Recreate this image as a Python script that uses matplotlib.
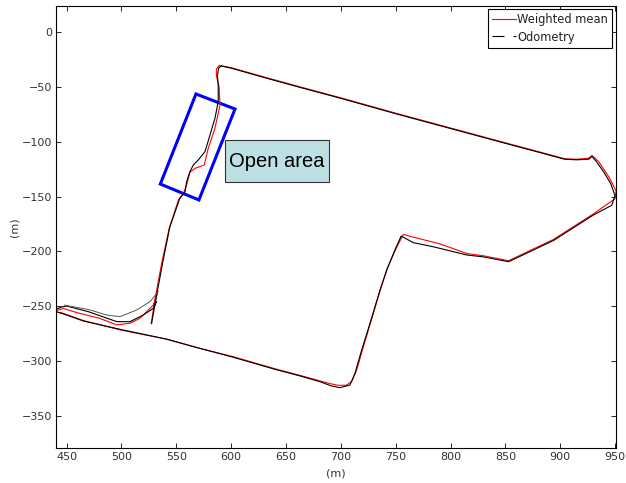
import matplotlib
matplotlib.use("Agg")
import matplotlib.pyplot as plt
from matplotlib.lines import Line2D
from matplotlib.patches import Rectangle, Polygon

# Trajectoire odometrie (m)
odom_x = [527.5, 532, 538, 544, 553, 557.9, 559.4, 562.4, 565.5, 570, 576.1, 580.7,
          585.2, 588.2, 588.2, 587.5, 588.5, 591, 600, 630, 662.7, 700, 750, 800,
          850, 880, 904, 915, 926, 929, 933, 940, 946, 950, 947, 930, 894, 853,
          830, 815, 784, 766, 755, 749.3, 741.8, 735.7, 726.6, 719, 712.9, 708.3,
          699.2, 691.6, 681, 662.7, 640, 601.9, 570, 541.2, 498.6, 465.1, 445.4,
          437, 446, 450, 470, 495.6, 507.7, 519.8, 529, 532]
odom_y = [-265.5, -240, -208, -178, -152, -145.6, -136.5, -127.3, -121.2, -116.7,
          -109.1, -93.9, -78.7, -63.5, -48.3, -40, -33, -31, -33, -41.5, -50.5,
          -60.5, -74.5, -88, -101.5, -109.5, -116, -116.5, -116, -113.5, -118,
          -128, -138, -149, -158, -167, -190, -209.4, -205, -203.3, -195.7, -192,
          -186, -198.7, -217, -235.2, -265.5, -289.9, -311.1, -321.8, -324.2,
          -322.7, -318.8, -313.5, -307.5, -296.5, -288, -280, -271, -263.4,
          -256.4, -254, -250.5, -249.8, -255, -264, -264.1, -258, -251.9, -245.8]

# Second passage odometrie (boucle gauche)
odom2_x = [448, 470, 486.5, 498.6, 513.8, 526, 533.5]
odom2_y = [-249, -253, -258, -259.5, -253.4, -245.8, -236.7]

# Moyenne ponderee
wm_x = [527, 531, 537, 543.5, 552, 557, 559.4, 562.4, 567, 575.5, 579.1, 585.2,
        589.8, 589, 586.5, 586.5, 589, 600, 630, 662.7, 700, 750, 800, 850, 880,
        904, 915, 926, 929, 935, 945, 951, 950, 930, 894, 853, 830, 815, 790,
        770, 757, 751, 743, 737, 728, 720.5, 714.5, 710, 705, 697, 690, 681,
        662.7, 640, 601.9, 570, 541.2, 498.6, 465.1, 445.4, 437, 447, 460, 480,
        495.6, 507.7, 516.8, 529, 533]
wm_y = [-266, -241, -209, -179, -153, -146, -139.5, -127.9, -124.3, -121.2, -106,
        -87.8, -66.5, -50, -40, -34, -30.5, -32.5, -41, -50, -60, -74, -87.5,
        -101, -109, -115.5, -116, -115, -112.5, -118, -133, -145, -152, -166,
        -189, -208.5, -204, -202, -193, -188, -184.5, -196, -214, -232, -262,
        -287, -308, -318.5, -322, -322, -320.5, -318, -313, -307, -296, -288,
        -280, -271.5, -263, -256, -255, -252, -256, -261, -267, -265.5, -261,
        -248.9, -238]

# Zone ouverte (rectangle incline)
zone_x = [567.9, 603.5, 570.6, 535.4]
zone_y = [-56.5, -70.2, -153.1, -138.6]

# Etiquette "Open area"
label_x = [594.6, 689.5]
label_y = [-136.7, -98.5]

xticks = list(range(450, 951, 50))
yticks = list(range(-350, 1, 50))

fig = plt.figure(figsize=(6.26, 4.83), dpi=100)
ax = fig.add_axes([0.0895, 0.0718, 0.894, 0.9158])

ax.plot(wm_x, wm_y, color="#ff0000", lw=0.8)
ax.plot(odom_x, odom_y, color="black", lw=0.8)
ax.plot(odom2_x, odom2_y, color="#555555", lw=0.7)

ax.add_patch(Polygon(list(zip(zone_x, zone_y)), closed=True, fill=False,
                     edgecolor="#0000ff", lw=2.2))

ax.add_patch(Rectangle((label_x[0] + 0.8, label_y[0] - 1.2), label_x[1] - label_x[0],
                       label_y[1] - label_y[0], facecolor="#777777", edgecolor="none"))
ax.add_patch(Rectangle((label_x[0], label_y[0]), label_x[1] - label_x[0],
                       label_y[1] - label_y[0], facecolor="#bce0e4",
                       edgecolor="#333333", lw=0.8))
ax.text(641.5, -123.3, "Open area", fontsize=14.5, family="Liberation Sans",
        ha="center", va="baseline", color="black")

ax.set_xlim(440.3, 950.6)
ax.set_ylim(-379.5, 23.7)
ax.set_xticks(xticks)
ax.set_yticks(yticks)
ax.tick_params(direction="in", length=3.6, width=0.6, top=True, right=True,
               labelsize=8, labelcolor="#333333", pad=3)
for s in ax.spines.values():
    s.set_linewidth(0.8)
ax.set_xlabel("(m)", fontsize=8, color="#333333", labelpad=4)
ax.set_ylabel("(m)", fontsize=8, color="#333333", labelpad=1)

handles = [Line2D([], [], color="#ff0000", lw=0.8),
           Line2D([], [], color="black", lw=0.8, dashes=(10.8, 8.1))]
leg = ax.legend(handles, ["Weighted mean", "Odometry"], loc="upper right",
                fontsize=8.3, handlelength=2.1, handletextpad=0.1,
                borderaxespad=0.3, borderpad=0.35, labelspacing=0.35,
                fancybox=False, framealpha=1, edgecolor="black")
leg.get_frame().set_linewidth(0.8)
for t in leg.get_texts():
    t.set_color("#222222")

plt.savefig("out.png", dpi=100)
plt.close()
